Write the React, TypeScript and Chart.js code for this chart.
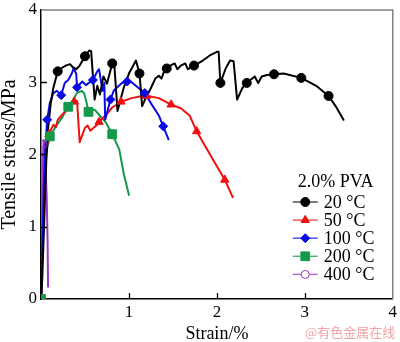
import React, { useEffect, useRef } from 'react';
import { Chart, registerables } from 'chart.js';
import { drawPoint } from 'chart.js/helpers';

Chart.register(...registerables);

const SERIF = '"Liberation Serif", "Times New Roman", serif';

// ---- data (strain %, tensile stress MPa) ----
const curve20: number[][] = [
  [0, 0], [0.015, 0.3], [0.04, 1.2], [0.06, 1.9], [0.08, 2.35], [0.11, 2.7], [0.14, 2.92], [0.19, 3.15],
  [0.24, 3.2], [0.28, 3.23], [0.33, 3.25], [0.36, 3.21], [0.4, 3.18], [0.44, 3.23], [0.5, 3.36], [0.55, 3.44],
  [0.57, 3.43], [0.61, 2.76], [0.64, 2.95], [0.67, 2.83], [0.71, 3.08], [0.75, 2.98], [0.81, 3.26], [0.83, 3.31],
  [0.87, 2.6], [0.94, 2.92], [1.0, 3.12], [1.08, 3.3], [1.12, 3.12], [1.15, 2.67], [1.19, 2.78], [1.25, 2.92],
  [1.3, 3.05], [1.34, 3.09], [1.37, 3.05], [1.4, 3.15], [1.43, 3.19], [1.47, 3.23], [1.52, 3.26], [1.55, 3.18],
  [1.59, 3.23], [1.64, 3.26], [1.67, 3.18], [1.74, 3.23], [1.84, 3.3], [1.92, 3.37], [2.0, 3.42], [2.02, 3.42],
  [2.04, 2.99], [2.1, 3.19], [2.15, 3.3], [2.19, 3.29], [2.23, 2.76], [2.29, 2.92], [2.34, 2.99], [2.43, 3.08],
  [2.47, 2.99], [2.51, 3.08], [2.57, 3.1], [2.65, 3.11], [2.76, 3.12], [2.96, 3.06], [3.13, 2.95], [3.27, 2.81],
  [3.35, 2.67], [3.44, 2.48],
];
const marks20: number[][] = [
  [0.19, 3.15], [0.5, 3.36], [0.81, 3.26], [1.12, 3.12], [1.43, 3.19], [1.74, 3.23], [2.04, 2.99], [2.34, 2.99],
  [2.65, 3.11], [2.96, 3.06], [3.27, 2.81],
];

const curve50: number[][] = [
  [0, 0], [0.02, 0.8], [0.04, 1.6], [0.06, 2.05], [0.09, 2.28], [0.12, 2.36], [0.14, 2.41], [0.17, 2.38],
  [0.19, 2.48], [0.24, 2.55], [0.28, 2.6], [0.33, 2.67], [0.38, 2.73], [0.41, 2.74], [0.44, 2.17], [0.5, 2.37],
  [0.53, 2.4], [0.56, 2.33], [0.63, 2.4], [0.66, 2.45], [0.74, 2.55], [0.81, 2.65], [0.91, 2.73], [1.03, 2.78],
  [1.15, 2.81], [1.22, 2.81], [1.34, 2.78], [1.48, 2.69], [1.59, 2.64], [1.69, 2.54], [1.77, 2.32], [1.86, 2.13],
  [1.97, 1.9], [2.09, 1.65], [2.18, 1.41],
];
const marks50: number[][] = [
  [0.09, 2.28], [0.38, 2.73], [0.66, 2.45], [0.91, 2.73], [1.2, 2.81], [1.48, 2.69], [1.77, 2.32], [2.09, 1.65],
];

const curve100: number[][] = [
  [0, 0], [0.02, 1.0], [0.04, 1.9], [0.07, 2.48], [0.1, 2.71], [0.14, 2.85], [0.18, 2.88], [0.23, 2.82],
  [0.27, 2.99], [0.31, 3.03], [0.35, 3.12], [0.37, 3.19], [0.4, 3.12], [0.41, 2.93], [0.47, 3.01], [0.51, 2.96],
  [0.59, 3.03], [0.64, 3.15], [0.66, 3.18], [0.7, 2.88], [0.72, 2.99], [0.73, 2.48], [0.79, 2.76], [0.83, 2.89],
  [0.92, 2.99], [0.98, 3.01], [1.03, 3.0], [1.11, 2.92], [1.18, 2.85], [1.26, 2.69], [1.34, 2.54], [1.39, 2.39],
  [1.45, 2.21],
];
const marks100: number[][] = [
  [0.07, 2.48], [0.23, 2.82], [0.41, 2.93], [0.59, 3.03], [0.79, 2.76], [0.98, 3.01], [1.18, 2.85], [1.39, 2.39],
];

const curve200: number[][] = [
  [0, 0], [0.02, 1.35], [0.06, 2.03], [0.1, 2.25], [0.15, 2.35], [0.18, 2.41], [0.24, 2.51], [0.31, 2.66],
  [0.36, 2.75], [0.41, 2.85], [0.46, 2.88], [0.49, 2.85], [0.52, 2.71], [0.54, 2.59], [0.61, 2.62], [0.66, 2.55],
  [0.74, 2.44], [0.81, 2.28], [0.89, 2.07], [0.94, 1.74], [1.0, 1.44],
];
const marks200: number[][] = [[0, 0], [0.1, 2.25], [0.31, 2.66], [0.54, 2.59], [0.81, 2.28]];

const curve400: number[][] = [
  [0, 0], [0.01, 1.0], [0.02, 1.9], [0.03, 2.2], [0.05, 1.9], [0.065, 1.4], [0.075, 0.8], [0.08, 0.17],
];
const marks400: number[][] = [[0, 0], [0.025, 2.14]];

const seriesLabels = ['20 °C', '50 °C', '100 °C', '200 °C', '400 °C'];
const seriesColors = ['#000000', '#ee1111', '#0a0ae6', '#13994a', '#9a35c8'];
const seriesStyles = ['circle', 'triangle', 'rectRot', 'rect', 'circle'];
const seriesRadius = [4.5, 4.8, 4.5, 6.2, 4];
const legendTitle = '2.0% PVA';
const xTicks = [0, 1, 2, 3, 4];
const yTicks = [0, 1, 2, 3, 4];
const xTitle = 'Strain/%';
const yTitle = 'Tensile stress/MPa';
const watermark = '@有色金属在线';

const curves = [curve20, curve50, curve100, curve200, curve400];
const marks = [marks20, marks50, marks100, marks200, marks400];

const toXY = (arr: number[][]) => arr.map(([x, y]) => ({ x, y }));

const framePlugin = {
  id: 'framePlugin',
  afterDraw(chart: any) {
    const { ctx, chartArea: a, scales } = chart;
    ctx.save();
    // top and right frame
    ctx.strokeStyle = '#808080';
    ctx.lineWidth = 1.5;
    ctx.beginPath();
    ctx.moveTo(a.left, a.top);
    ctx.lineTo(a.right, a.top);
    ctx.lineTo(a.right, a.bottom);
    ctx.stroke();
    // inward ticks
    ctx.strokeStyle = '#000';
    ctx.lineWidth = 1.3;
    ctx.beginPath();
    xTicks.slice(1, -1).forEach((v) => {
      const px = Math.round(scales.x.getPixelForValue(v)) + 0.5;
      ctx.moveTo(px, a.bottom);
      ctx.lineTo(px, a.bottom - 6);
    });
    yTicks.slice(1, -1).forEach((v) => {
      const py = Math.round(scales.y.getPixelForValue(v)) + 0.5;
      ctx.moveTo(a.left, py);
      ctx.lineTo(a.left + 6, py);
    });
    ctx.stroke();
    // legend
    const lx = a.right - 100;
    ctx.font = '18px ' + SERIF;
    ctx.fillStyle = '#000';
    ctx.textAlign = 'left';
    ctx.textBaseline = 'middle';
    ctx.fillText(legendTitle, lx + 5, a.bottom - 117);
    seriesLabels.forEach((lab, i) => {
      const cy = a.bottom - 97 + i * 18.1;
      const col = seriesColors[i];
      ctx.strokeStyle = col;
      ctx.globalAlpha = 0.75;
      ctx.lineWidth = 1.4;
      ctx.beginPath();
      ctx.moveTo(lx, cy);
      ctx.lineTo(lx + 25, cy);
      ctx.stroke();
      ctx.globalAlpha = 1;
      const open = i === 4;
      ctx.fillStyle = open ? '#ffffff' : col;
      ctx.strokeStyle = col;
      ctx.lineWidth = 1;
      drawPoint(ctx, { pointStyle: seriesStyles[i], radius: seriesRadius[i], rotation: 0, borderWidth: 1 } as any, lx + 12.5, cy);
      ctx.fillStyle = '#000';
      ctx.fillText(lab, lx + 31, cy + 1);
    });
    ctx.restore();
  },
};

export default function App() {
  const ref = useRef<HTMLCanvasElement>(null);
  useEffect(() => {
    document.body.style.margin = '0';
    const datasets: any[] = [];
    // marker datasets first (drawn on top)
    const order = [3, 4, 0, 2, 1];
    order.forEach((i) => {
      datasets.push({
        label: seriesLabels[i] + ' markers',
        data: toXY(marks[i]),
        showLine: false,
        pointStyle: seriesStyles[i],
        pointRadius: seriesRadius[i],
        pointBackgroundColor: i === 4 ? 'rgba(255,255,255,0)' : seriesColors[i],
        pointBorderColor: seriesColors[i],
        pointBorderWidth: 1,
      });
    });
    [0, 2, 1, 4, 3].forEach((i) => {
      datasets.push({
        label: seriesLabels[i],
        data: toXY(curves[i]),
        borderColor: seriesColors[i],
        borderWidth: 2,
        pointRadius: 0,
        tension: 0,
        fill: false,
        borderJoinStyle: 'round',
        borderCapStyle: 'round',
      });
    });
    const chart = new Chart(ref.current!, {
      type: 'line',
      data: { datasets },
      plugins: [framePlugin],
      options: {
        animation: false,
        responsive: false,
        devicePixelRatio: 1,
        layout: { padding: { left: 0, right: 0, top: 0, bottom: 0 } },
        plugins: { legend: { display: false }, tooltip: { enabled: false } },
        scales: {
          x: {
            type: 'linear',
            min: 0,
            max: 4,
            afterBuildTicks: (s: any) => {
              s.ticks = xTicks.map((v) => ({ value: v }));
            },
            ticks: {
              color: '#000',
              font: { family: SERIF, size: 17, lineHeight: 1.2 },
              padding: 3,
              maxRotation: 0,
              callback: (v: any) => (Number(v) === 0 ? '' : String(v)),
            },
            grid: { drawOnChartArea: false, drawTicks: false },
            border: { color: '#000', width: 1.5 },
            title: {
              display: true,
              text: xTitle,
              color: '#000',
              font: { family: SERIF, size: 18, lineHeight: 0.9 },
              padding: { top: 0, bottom: 0 },
            },
            afterFit: (s: any) => {
              s.height = 43;
            },
          },
          y: {
            type: 'linear',
            min: 0,
            max: 4,
            afterBuildTicks: (s: any) => {
              s.ticks = yTicks.map((v) => ({ value: v }));
            },
            ticks: {
              color: '#000',
              font: { family: SERIF, size: 17, lineHeight: 0.7 },
              padding: 4,
            },
            grid: { drawOnChartArea: false, drawTicks: false },
            border: { color: '#000', width: 1.5 },
            title: {
              display: true,
              text: yTitle,
              color: '#000',
              font: { family: SERIF, size: 20, lineHeight: 1.0 },
              padding: { top: 0, bottom: 0 },
            },
            afterFit: (s: any) => {
              s.width = 41;
            },
          },
        },
      },
    });
    return () => chart.destroy();
  }, []);
  return (
    <div style={{ position: 'fixed', left: 0, top: 0, width: 400, height: 342, background: '#fff' }}>
      <canvas ref={ref} width={400} height={342} style={{ width: 400, height: 342, display: 'block' }} />
      <div
        style={{
          position: 'absolute',
          left: 305,
          top: 324,
          fontFamily: '"Noto Sans CJK SC", sans-serif',
          fontSize: 13,
          lineHeight: '16px',
          color: '#f2a3a3',
          whiteSpace: 'nowrap',
        }}
      >
        {watermark}
      </div>
    </div>
  );
}
